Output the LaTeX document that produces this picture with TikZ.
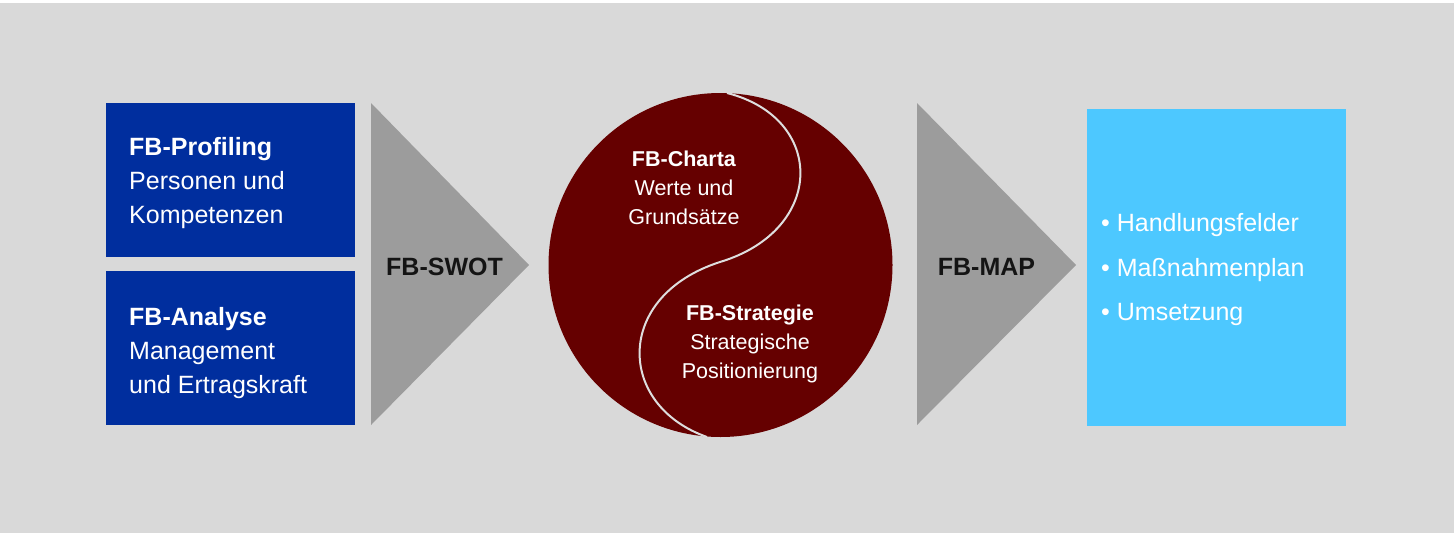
\documentclass[tikz,border=0pt]{standalone}
\usepackage{fontspec}
\setmainfont{Liberation Sans}
\definecolor{bg}{RGB}{217,217,217}
\definecolor{dblue}{RGB}{0,46,158}
\definecolor{lblue}{RGB}{77,200,255}
\definecolor{tri}{RGB}{156,156,156}
\definecolor{maroon}{RGB}{101,0,0}
\definecolor{scurve}{RGB}{222,222,222}
\tikzset{
  boxtext/.style={text=white, align=left, anchor=west, inner sep=0pt, font=\fontsize{25}{34}\selectfont},
  circtext/.style={text=white, align=center, inner sep=0pt, font=\fontsize{21.5}{29}\selectfont},
  tritext/.style={text=black!92, inner sep=0pt, font=\bfseries\fontsize{25}{30}\selectfont},
  listtext/.style={text=white, align=left, anchor=west, inner sep=0pt, font=\fontsize{25}{44.5}\selectfont},
  tribox/.style={fill=tri, draw=none},
}
\begin{document}
\begin{tikzpicture}[x=1pt,y=-1pt]
\useasboundingbox (0,0) rectangle (1454,533);
\fill[bg] (0,0) rectangle (1454,533);
\fill[white] (0,0) rectangle (1454,2.5);
% left boxes
\fill[dblue] (106,103) rectangle (355,257);
\fill[dblue] (106,271) rectangle (355,425);
\node[boxtext] (prof) at (129,183.5) {\textbf{FB-Profiling}\\Personen und\\Kompetenzen};
\node[boxtext] (anal) at (129,353) {\textbf{FB-Analyse}\\Management\\und Ertragskraft};
% triangles
\fill[tribox] (371,103) -- (529,265) -- (371,425) -- cycle;
\node[tritext] (swot) at (444.5,267) {FB-SWOT};
\fill[tribox] (917,103) -- (1076,265) -- (917,425) -- cycle;
\node[tritext] (map) at (986.5,267) {FB-MAP};
% circle
\node[circle, fill=maroon, minimum size=344pt, inner sep=0pt] (circ) at (720.5,265) {};
\draw[scurve, line width=2pt] (727,93) .. controls (826,118) and (826,230) .. (720,262)
   .. controls (614,296) and (616,405) .. (707,437);
\node[circtext] (charta) at (684,188) {\textbf{FB-Charta}\\Werte und\\Grundsätze};
\node[circtext] (strat) at (750,344) {\textbf{FB-Strategie}\\Strategische\\Positionierung};
% right box
\fill[lblue] (1087,109) rectangle (1346,426);
\node[listtext] (list) at (1101,270) {• Handlungsfelder\\• Maßnahmenplan\\• Umsetzung};
\end{tikzpicture}
\end{document}
